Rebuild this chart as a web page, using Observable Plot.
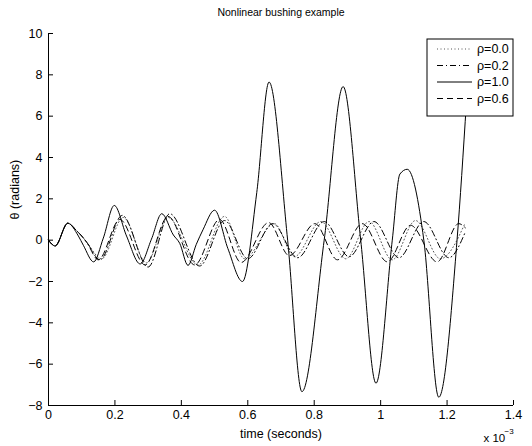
<!DOCTYPE html>
<html><head><meta charset="utf-8">
<script src="https://cdn.jsdelivr.net/npm/d3@7"></script>
<script src="https://cdn.jsdelivr.net/npm/@observablehq/plot@0.6"></script>
<style>body{margin:0;background:#fff}</style>
</head><body><div id="chart"></div><script>
// time in units of 1e-3 s, theta in radians
const rho10 = [[0,0],[0.02,-0.28],[0.058,0.82],[0.09,0.2],[0.105,-0.25],[0.136,-1.05],[0.165,0.1],[0.198,1.68],[0.235,0.2],[0.276,-1.15],[0.31,0.05],[0.341,1.28],[0.376,0.25],[0.395,-0.15],[0.42,-1.22],[0.445,-0.2],[0.465,0.5],[0.5,1.45],[0.54,-0.4],[0.584,-2.0],[0.627,2.3],[0.664,7.65],[0.72,0.0],[0.763,-7.33],[0.83,0.0],[0.887,7.43],[0.94,0.0],[0.986,-6.92],[1.035,0.0],[1.058,3.2],[1.08,3.43],[1.13,0.0],[1.175,-7.6],[1.23,0.0],[1.258,6.6]];
const rho06 = [[0,0],[0.02,-0.28],[0.058,0.82],[0.085,0.45],[0.1,0.2],[0.115,-0.1],[0.15,-0.95],[0.215,1.0],[0.291,-1.2],[0.36,1.15],[0.44,-1.2],[0.515,1.0],[0.58,-1.08],[0.663,0.85],[0.725,-0.75],[0.802,0.8],[0.87,-0.95],[0.945,0.8],[1.02,-1.05],[1.09,0.72],[1.17,-1.05],[1.235,0.8],[1.255,0.6]];
const rho02 = [[0,0],[0.02,-0.28],[0.058,0.82],[0.085,0.45],[0.1,0.2],[0.115,-0.1],[0.155,-0.95],[0.222,1.2],[0.30,-1.3],[0.365,1.28],[0.455,-1.25],[0.53,0.95],[0.6,-0.9],[0.675,0.8],[0.75,-0.85],[0.83,0.9],[0.905,-0.8],[0.98,0.9],[1.055,-0.85],[1.13,0.9],[1.205,-0.85],[1.255,0.4]];
const rho00 = [[0,0],[0.02,-0.28],[0.058,0.82],[0.085,0.45],[0.1,0.2],[0.115,-0.1],[0.16,-0.9],[0.225,1.1],[0.295,-1.1],[0.36,1.1],[0.45,-1.2],[0.53,1.15],[0.59,-0.9],[0.68,0.8],[0.74,-0.8],[0.82,0.9],[0.895,-0.9],[0.965,0.9],[1.035,-0.95],[1.105,0.95],[1.18,-0.9],[1.255,0.85]];
const xTicks = [0,0.2,0.4,0.6,0.8,1,1.2,1.4];
const yTicks = [-8,-6,-4,-2,0,2,4,6,8,10];
const legendLabels = ["ρ=0.0","ρ=0.2","ρ=1.0","ρ=0.6"];
const legendDash = ["1,2.5","6,3,1,3",null,"6,4"];
const legendStroke = ["#444","#000","#000","#000"];

const font = '"Liberation Sans", Arial, Helvetica, sans-serif';
const lineOpts = {x: d => d[0], y: d => d[1], curve: "monotone-x", strokeWidth: 1};

const svg = Plot.plot({
  width: 532, height: 446,
  marginLeft: 48, marginRight: 19, marginTop: 33, marginBottom: 41,
  style: {fontFamily: font, fontSize: "12.5px", background: "#fff"},
  x: {domain: [0, 1.4]},
  y: {domain: [-8, 10]},
  marks: [
    Plot.line(rho00, {...lineOpts, stroke: legendStroke[0], strokeDasharray: legendDash[0], strokeWidth: 0.9}),
    Plot.line(rho02, {...lineOpts, stroke: legendStroke[1], strokeDasharray: legendDash[1]}),
    Plot.line(rho10, {...lineOpts, stroke: legendStroke[2]}),
    Plot.line(rho06, {...lineOpts, stroke: legendStroke[3], strokeDasharray: legendDash[3]}),
    Plot.ruleX([0], {stroke: "#000"}),
    Plot.ruleY([-8], {stroke: "#000"}),
    Plot.axisX({ticks: xTicks, tickSize: -5, tickPadding: 10, tickFormat: d3.format("~g"), label: null, fontSize: 12.5}),
    Plot.axisY({ticks: yTicks, tickSize: -5, tickPadding: 11, tickFormat: d => d < 0 ? "−" + Math.abs(d) : String(d), label: null, fontSize: 12.5}),
    Plot.text(["Nonlinear bushing example"], {frameAnchor: "top", lineAnchor: "middle", dy: -21, fontSize: 10.5}),
    Plot.text(["time (seconds)"], {frameAnchor: "bottom", lineAnchor: "middle", dy: 28, fontSize: 12.5}),
    Plot.text(["θ (radians)"], {frameAnchor: "left", lineAnchor: "middle", rotate: -90, dx: -34, fontSize: 12.5}),
    Plot.text(["x 10"], {frameAnchor: "bottom-right", lineAnchor: "middle", textAnchor: "start", dx: -30, dy: 33, fontSize: 11.5}),
    Plot.text(["−3"], {frameAnchor: "bottom-right", lineAnchor: "middle", textAnchor: "start", dx: -9, dy: 26, fontSize: 8})
  ]
});

// legend
const g = d3.select(svg).append("g").attr("text-anchor", "start");
g.append("rect").attr("x", 427).attr("y", 39).attr("width", 86).attr("height", 77)
  .attr("fill", "#fff").attr("stroke", "#000");
legendLabels.forEach((lab, i) => {
  const y = 49 + i * 16.5;
  const ln = g.append("line").attr("x1", 437).attr("x2", 472).attr("y1", y).attr("y2", y)
    .attr("stroke", legendStroke[i]).attr("stroke-width", i === 0 ? 0.9 : 1);
  if (legendDash[i]) ln.attr("stroke-dasharray", legendDash[i]);
  g.append("text").attr("x", 477).attr("y", y).attr("dy", "0.35em").attr("text-anchor", "start")
    .attr("font-size", 12.5).attr("font-family", font).text(lab);
});

document.getElementById("chart").append(svg);
</script></body></html>
